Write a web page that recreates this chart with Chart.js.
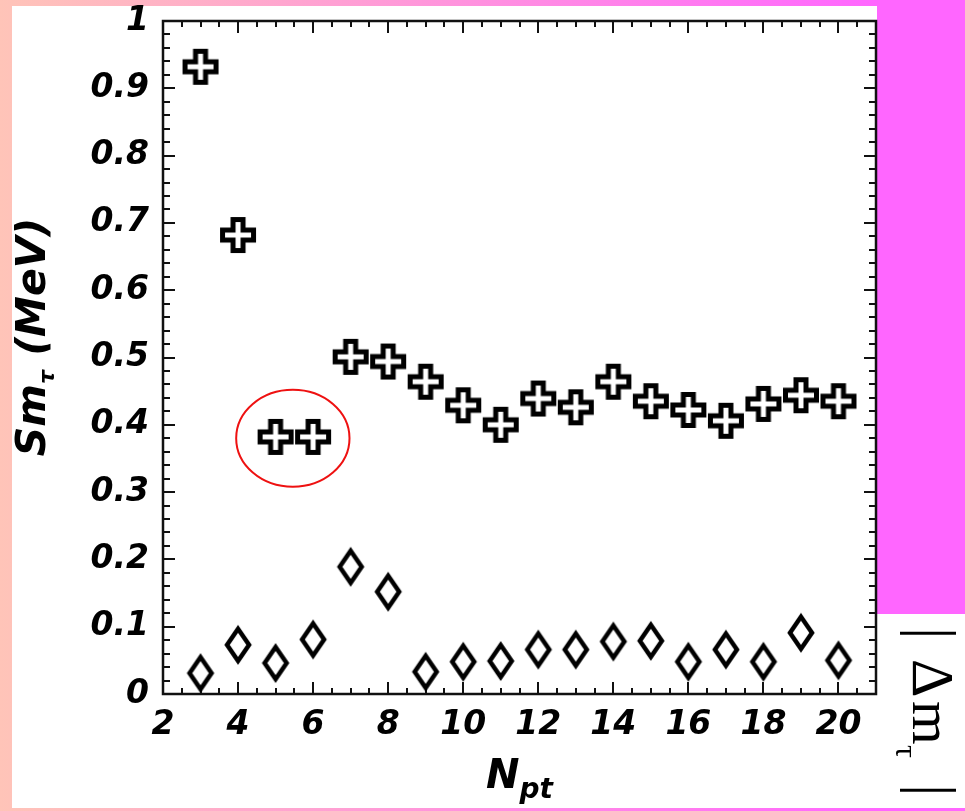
<!DOCTYPE html>
<html>
<head>
<meta charset="utf-8">
<script src="https://cdn.jsdelivr.net/npm/chart.js@4.4.1/dist/chart.umd.min.js"></script>
<style>
  html, body { margin: 0; padding: 0; }
  body {
    width: 965px; height: 811px; position: relative; overflow: hidden;
    background: linear-gradient(to right, #ffc4b8 0px, #ff66ff 877px);
  }
  #panel { position: absolute; left: 12px; top: 6px; width: 865px; height: 802px; background: #fff; }
  #side { position: absolute; left: 877px; top: 0; width: 88px; height: 614px; background: #ff66ff; }
  #sidebox { position: absolute; left: 877px; top: 614px; width: 88px; height: 194px; background: #fff; }
  #wrap { position: absolute; left: 0; top: 0; width: 965px; height: 811px; }
</style>
</head>
<body>
<div id="panel"></div>
<div id="side"></div>
<div id="sidebox"></div>
<div id="wrap"><canvas id="c" width="965" height="811"></canvas></div>
<script>
// Number of points N_pt
const nPoints = [3, 4, 5, 6, 7, 8, 9, 10, 11, 12, 13, 14, 15, 16, 17, 18, 19, 20];
// Statistical error on m_tau (MeV), crosses
const smTau = [0.932, 0.682, 0.382, 0.382, 0.501, 0.494, 0.464, 0.429, 0.400,
               0.439, 0.426, 0.464, 0.435, 0.422, 0.406, 0.431, 0.444, 0.435];
// |Delta m_tau| (MeV), diamonds
const deltaMTau = [0.031, 0.073, 0.046, 0.081, 0.189, 0.152, 0.033, 0.048, 0.049,
                   0.066, 0.066, 0.078, 0.079, 0.048, 0.066, 0.048, 0.091, 0.050];
// Axis ticks
const xTickValues = [2, 4, 6, 8, 10, 12, 14, 16, 18, 20];
const yTickValues = [0, 0.1, 0.2, 0.3, 0.4, 0.5, 0.6, 0.7, 0.8, 0.9, 1];
const yTickLabels = ['0', '0.1', '0.2', '0.3', '0.4', '0.5', '0.6', '0.7', '0.8', '0.9', '1'];
// Circled pair of points (data units)
const highlight = { x: 5.46, y: 0.380, rx: 1.51, ry: 0.072 };

const FONT = "'DejaVu Sans', sans-serif";

function plusMarker() {
  const c = document.createElement('canvas');
  c.width = 42; c.height = 42;
  const g = c.getContext('2d');
  const a = 15.5, b = 5;
  g.translate(21, 21);
  g.beginPath();
  const pts = [[-b,-a],[b,-a],[b,-b],[a,-b],[a,b],[b,b],[b,a],[-b,a],[-b,b],[-a,b],[-a,-b],[-b,-b]];
  pts.forEach((p, i) => i ? g.lineTo(p[0], p[1]) : g.moveTo(p[0], p[1]));
  g.closePath();
  g.fillStyle = '#fff'; g.fill();
  g.lineWidth = 5; g.lineJoin = 'miter'; g.strokeStyle = '#000'; g.stroke();
  return c;
}

function diamondMarker() {
  const c = document.createElement('canvas');
  c.width = 32; c.height = 44;
  const g = c.getContext('2d');
  const hw = 11, hh = 16;
  g.translate(16, 22);
  g.beginPath();
  g.moveTo(0, -hh); g.lineTo(hw, 0); g.lineTo(0, hh); g.lineTo(-hw, 0); g.closePath();
  g.fillStyle = '#fff'; g.fill();
  g.lineWidth = 4.5; g.lineJoin = 'miter'; g.strokeStyle = '#000'; g.stroke();
  return c;
}

// Frame with inward ticks on all four sides
const framePlugin = {
  id: 'frame',
  beforeDatasetsDraw(chart) {
    const { ctx, chartArea: a, scales: { x, y } } = chart;
    ctx.save();
    ctx.strokeStyle = '#111';
    ctx.lineWidth = 2.5;
    ctx.strokeRect(a.left, a.top, a.right - a.left, a.bottom - a.top);
    ctx.lineWidth = 2;
    ctx.beginPath();
    for (let i = 1; i < 50; i++) {
      const py = Math.round(y.getPixelForValue(i / 50));
      const len = i % 5 === 0 ? 12 : 7;
      ctx.moveTo(a.left, py); ctx.lineTo(a.left + len, py);
      ctx.moveTo(a.right, py); ctx.lineTo(a.right - len, py);
    }
    for (let i = 1; i < 38; i++) {
      const v = 2 + i * 0.5;
      const px = Math.round(x.getPixelForValue(v));
      const len = i % 4 === 0 ? 12 : 6;
      ctx.moveTo(px, a.bottom); ctx.lineTo(px, a.bottom - len);
      ctx.moveTo(px, a.top); ctx.lineTo(px, a.top + len);
    }
    ctx.stroke();
    ctx.restore();
  },
  afterDatasetsDraw(chart) {
    const { ctx, scales: { x, y } } = chart;
    const cx = x.getPixelForValue(highlight.x);
    const cy = y.getPixelForValue(highlight.y);
    const rx = Math.abs(x.getPixelForValue(highlight.x + highlight.rx) - cx);
    const ry = Math.abs(y.getPixelForValue(highlight.y + highlight.ry) - cy);
    ctx.save();
    ctx.strokeStyle = '#ee1111';
    ctx.lineWidth = 2;
    ctx.beginPath();
    ctx.ellipse(cx, cy, rx, ry, 0, 0, Math.PI * 2);
    ctx.stroke();
    ctx.restore();
  },
  afterDraw(chart) {
    const { ctx, chartArea: a } = chart;
    ctx.save();
    ctx.fillStyle = '#000';
    ctx.textBaseline = 'alphabetic';
    ctx.textAlign = 'left';

    // x axis title: N_pt
    const fMain = `italic bold 40px ${FONT}`;
    const fSub = `italic bold 28px ${FONT}`;
    ctx.font = fMain; const wN = ctx.measureText('N').width;
    ctx.font = fSub; const wS = ctx.measureText('pt').width;
    const xc = (a.left + a.right) / 2;
    const x0 = xc - (wN + wS) / 2;
    ctx.font = fMain; ctx.fillText('N', x0, 788);
    ctx.font = fSub; ctx.fillText('pt', x0 + wN, 798);

    // y axis title: Sm_tau (MeV)
    const fyMain = `italic bold 41px ${FONT}`;
    const fySub = `italic bold 22px ${FONT}`;
    ctx.font = fyMain; const w1 = ctx.measureText('Sm').width;
    const w3 = ctx.measureText(' (MeV)').width;
    ctx.font = fySub; const w2 = ctx.measureText('τ').width;
    const total = w1 + w2 + w3;
    const yc = 337;
    ctx.save();
    ctx.translate(45, yc + total / 2);
    ctx.rotate(-Math.PI / 2);
    ctx.font = fyMain; ctx.fillText('Sm', 0, 0);
    ctx.font = fySub; ctx.fillText('τ', w1, 9);
    ctx.font = fyMain; ctx.fillText(' (MeV)', w1 + w2, 0);
    ctx.restore();

    // side label |Δm_τ|, reading downward
    const serif = "'Liberation Serif', 'DejaVu Serif', serif";
    const pieces = [
      { t: '|', size: 62, bx: 913, sy: 627 },
      { t: 'Δ', size: 60, bx: 913, sy: 659 },
      { t: 'm', size: 56, bx: 913, sy: 701 },
      { t: 'τ', size: 32, bx: 896, sy: 745 },
      { t: '|', size: 62, bx: 913, sy: 784 }
    ];
    pieces.forEach(p => {
      ctx.save();
      ctx.translate(p.bx, p.sy);
      ctx.rotate(Math.PI / 2);
      ctx.font = `${p.size}px ${serif}`;
      ctx.fillText(p.t, 0, 0);
      ctx.restore();
    });
    ctx.restore();
  }
};

const tickFont = { family: FONT, size: 33, weight: 'bold', style: 'italic' };

new Chart(document.getElementById('c'), {
  type: 'scatter',
  data: {
    datasets: [
      {
        label: 'Sm_tau',
        data: nPoints.map((n, i) => ({ x: n, y: smTau[i] })),
        pointStyle: plusMarker(),
        pointRadius: 18,
        showLine: false
      },
      {
        label: '|Delta m_tau|',
        data: nPoints.map((n, i) => ({ x: n, y: deltaMTau[i] })),
        pointStyle: diamondMarker(),
        pointRadius: 18,
        showLine: false
      }
    ]
  },
  options: {
    responsive: false,
    devicePixelRatio: 1,
    animation: false,
    events: [],
    clip: false,
    layout: { padding: { top: 21, right: 89, bottom: 0, left: 0 } },
    plugins: { legend: { display: false }, tooltip: { enabled: false } },
    scales: {
      x: {
        type: 'linear', min: 2, max: 21, position: 'bottom',
        grid: { display: false, drawTicks: false },
        border: { display: false },
        afterBuildTicks: s => { s.ticks = xTickValues.map(v => ({ value: v })); },
        afterFit: s => { s.height = 117; s.paddingLeft = 0; s.paddingRight = 0; },
        ticks: {
          font: tickFont, color: '#000', padding: 12,
          maxRotation: 0, autoSkip: false,
          callback: v => String(v)
        }
      },
      y: {
        type: 'linear', min: 0, max: 1,
        grid: { display: false, drawTicks: false },
        border: { display: false },
        afterBuildTicks: s => { s.ticks = yTickValues.map(v => ({ value: v })); },
        afterFit: s => { s.width = 163; s.paddingTop = 0; s.paddingBottom = 0; },
        ticks: {
          font: tickFont, color: '#000', padding: 14, autoSkip: false,
          callback: (v, i) => yTickLabels[i]
        }
      }
    }
  },
  plugins: [framePlugin]
});
</script>
</body>
</html>
